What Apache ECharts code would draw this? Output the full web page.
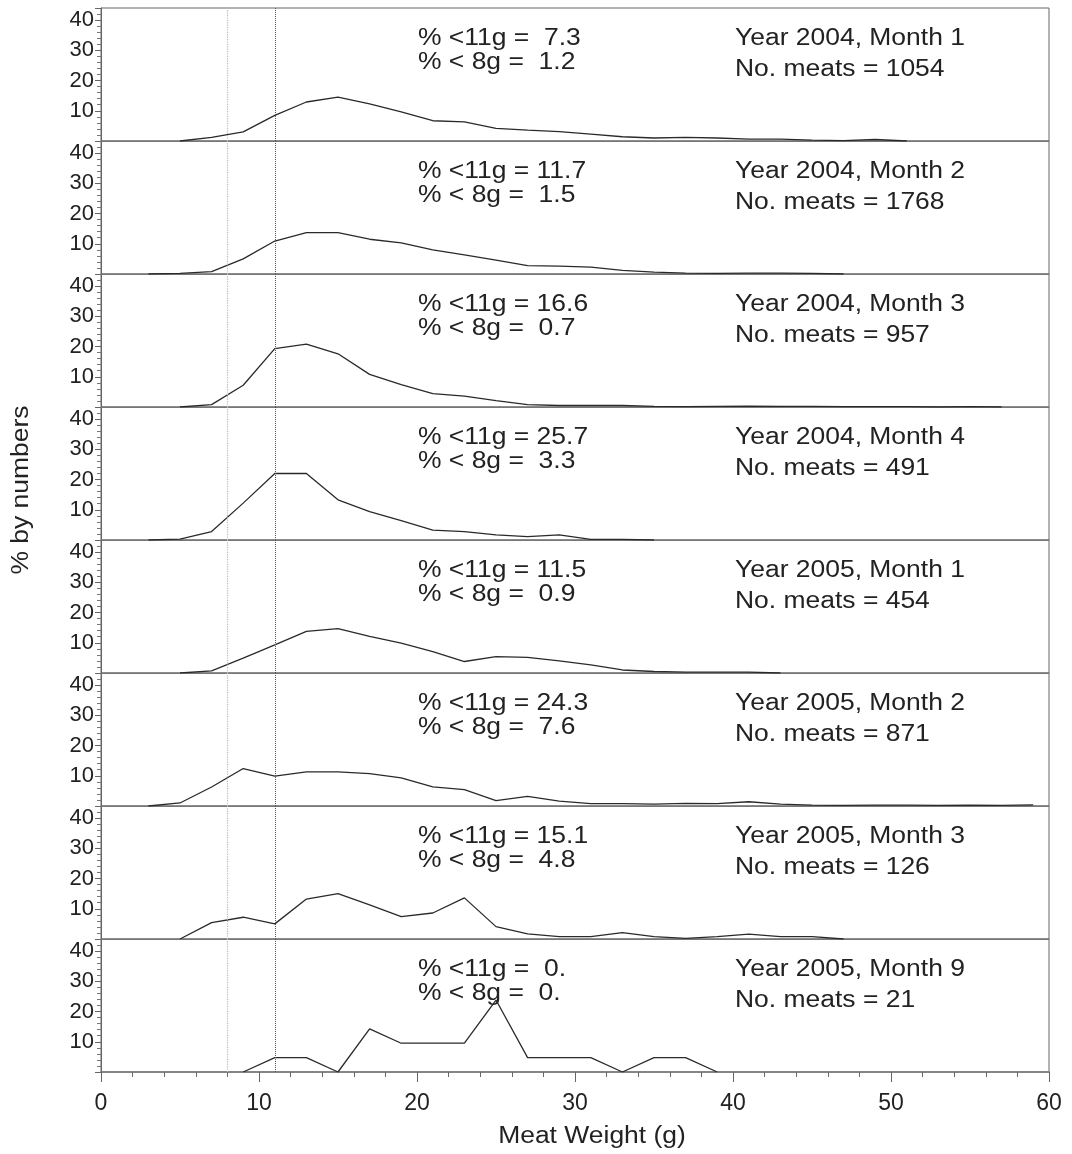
<!DOCTYPE html>
<html>
<head>
<meta charset="utf-8">
<script src="https://cdn.jsdelivr.net/npm/echarts@6/dist/echarts.min.js"></script>
<style>
  html, body { margin: 0; padding: 0; background: #fff; }
  #chart { width: 1072px; height: 1154px; }
</style>
</head>
<body>
<div id="chart"></div>
<script>
// Bin centres of the 2 g weight classes
const weights = [1,3,5,7,9,11,13,15,17,19,21,23,25,27,29,31,33,35,37,39,41,43,45,47,49,51,53,55,57,59];

// Percentage of meats in each weight class, one list per sample
const y2004m1 = [null,null,0,1.2,3.0,8.5,12.9,14.5,12.3,9.6,6.7,6.3,4.2,3.6,3.1,2.3,1.4,1.0,1.2,1.0,0.6,0.6,0.3,0.1,0.5,0,null,null,null,null];
const y2004m2 = [null,0,0.2,0.8,5.0,10.9,13.7,13.7,11.5,10.3,8.0,6.3,4.6,2.8,2.6,2.3,1.2,0.6,0.3,0.2,0.3,0.3,0.2,0,null,null,null,null,null,null];
const y2004m3 = [null,null,0,0.8,7.2,19.3,20.8,17.6,10.8,7.4,4.4,3.6,2.1,0.8,0.5,0.5,0.5,0.2,0.1,0.2,0.3,0.2,0.2,0.1,0.1,0.1,0,0.1,0,null];
const y2004m4 = [null,0,0.3,2.8,12.2,22.0,22.0,13.3,9.4,6.4,3.3,2.8,1.7,1.1,1.7,0.2,0.2,0,null,null,null,null,null,null,null,null,null,null,null,null];
const y2005m1 = [null,null,0,0.7,4.9,9.3,13.8,14.7,12.1,9.9,7.1,3.8,5.4,5.2,4.0,2.7,1.0,0.5,0.3,0.3,0.3,0,null,null,null,null,null,null,null,null];
const y2005m2 = [null,0,1.0,6.3,12.4,9.9,11.3,11.3,10.7,9.3,6.3,5.4,1.8,3.2,1.6,0.8,0.8,0.6,0.9,0.8,1.4,0.6,0.3,0.2,0.3,0.3,0.2,0.3,0.2,0.4];
const y2005m3 = [null,null,0,5.4,7.2,5.0,13.2,15.0,11.3,7.4,8.6,13.6,4.1,1.7,0.8,0.8,2.1,0.8,0.2,0.8,1.6,0.8,0.8,0,null,null,null,null,null,null];
const y2005m9 = [null,null,null,null,0,4.76,4.76,0,14.29,9.52,9.52,9.52,23.81,4.76,4.76,4.76,0,4.76,4.76,0,null,null,null,null,null,null,null,null,null,null];

const samples = [y2004m1, y2004m2, y2004m3, y2004m4, y2005m1, y2005m2, y2005m3, y2005m9];
const sampleNames = ['Year 2004, Month 1','Year 2004, Month 2','Year 2004, Month 3','Year 2004, Month 4',
                     'Year 2005, Month 1','Year 2005, Month 2','Year 2005, Month 3','Year 2005, Month 9'];
const meatCounts = [1054, 1768, 957, 491, 454, 871, 126, 21];
const pctUnder11 = ['7.3','11.7','16.6','25.7','11.5','24.3','15.1','0.'];
const pctUnder8  = ['1.2','1.5','0.7','3.3','0.9','7.6','4.8','0.'];

// Reference weights marked by dotted verticals
const cutoffs = [8, 11];
const xTicks = [0, 10, 20, 30, 40, 50, 60];
const yTicks = [10, 20, 30, 40];

const FONT = '"Liberation Sans", Arial, sans-serif';
const TEXT_FONT = '23px ' + FONT;
const STRETCH = 1.15;          // slightly wide lettering
const left = 101, right = 1049, top0 = 8, panelH = 133;
const n = samples.length;

function pad(v) { return (parseFloat(v) < 10 ? ' ' : '') + v; }

function label(text, x, y, extra) {
  return Object.assign({
    type: 'text', x: x, y: y, scaleX: STRETCH, silent: true,
    style: { text: text, fill: '#222', font: TEXT_FONT, textAlign: 'left', textVerticalAlign: 'middle' }
  }, extra || {});
}

const grids = [], xAxes = [], yAxes = [], series = [], graphics = [];

samples.forEach((vals, i) => {
  const top = top0 + i * panelH;
  const last = i === n - 1;
  grids.push({ left: left, top: top, width: right - left, height: panelH,
               show: true, borderColor: '#666', borderWidth: 1, backgroundColor: 'transparent' });
  xAxes.push({
    type: 'value', gridIndex: i, min: xTicks[0], max: xTicks[xTicks.length - 1], interval: 10,
    axisLine: { show: true, lineStyle: { color: '#777', width: last ? 1.5 : 1 } },
    axisTick: { show: last, length: 10, lineStyle: { color: '#666' } },
    minorTick: { show: last, splitNumber: 5, length: 5, lineStyle: { color: '#666' } },
    axisLabel: { show: last, color: '#222', fontFamily: FONT, fontSize: 23, margin: 20 },
    splitLine: { show: false }
  });
  yAxes.push({
    type: 'value', gridIndex: i, min: 0, max: 44, interval: 10,
    axisLine: { show: true, lineStyle: { color: '#666' } },
    axisTick: { show: true, length: 6, lineStyle: { color: '#666' } },
    minorTick: { show: true, splitNumber: 5, length: 4, lineStyle: { color: '#777' } },
    axisLabel: { color: '#222', fontFamily: FONT, fontSize: 22, margin: 7,
                 formatter: v => (yTicks.indexOf(v) >= 0 ? String(v) : '') },
    splitLine: { show: false }
  });
  series.push({
    type: 'line', xAxisIndex: i, yAxisIndex: i,
    data: weights.map((w, k) => [w, vals[k]]),
    showSymbol: false, connectNulls: false, animation: false,
    lineStyle: { color: '#2a2a2a', width: 1.3 },
    markLine: {
      silent: true, symbol: 'none', animation: false,
      label: { show: false },
      data: [
        { xAxis: cutoffs[0], lineStyle: { color: '#b8b8b8', type: 'dotted', width: 1.2 } },
        { xAxis: cutoffs[1], lineStyle: { color: '#555', type: 'dotted', width: 1 } }
      ]
    }
  });
  graphics.push(
    label('% <11g = ' + pad(pctUnder11[i]), 418, top + 31),
    label('% < 8g = ' + pad(pctUnder8[i]), 418, top + 55),
    label(sampleNames[i], 735, top + 31),
    label('No. meats = ' + meatCounts[i], 735, top + 62)
  );
});

// Axis titles
graphics.push(
  label('% by numbers', 22, 490, { rotation: Math.PI / 2,
    style: { text: '% by numbers', fill: '#222', font: TEXT_FONT, textAlign: 'center', textVerticalAlign: 'middle' } }),
  label('Meat Weight (g)', 592, 1137, {
    style: { text: 'Meat Weight (g)', fill: '#222', font: TEXT_FONT, textAlign: 'center', textVerticalAlign: 'middle' } })
);

const chart = echarts.init(document.getElementById('chart'), null, { renderer: 'canvas' });
chart.setOption({
  animation: false,
  backgroundColor: '#fff',
  grid: grids, xAxis: xAxes, yAxis: yAxes, series: series, graphic: graphics
});
</script>
</body>
</html>
